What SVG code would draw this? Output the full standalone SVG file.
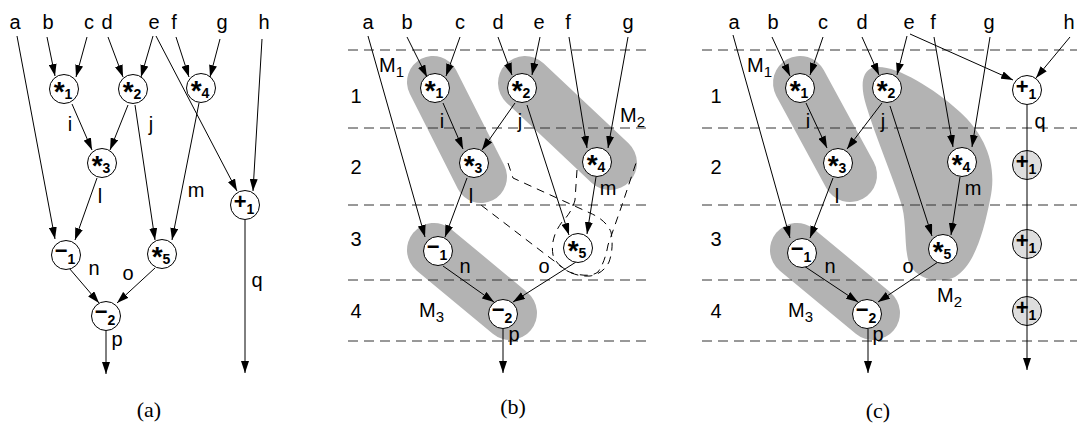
<svg xmlns="http://www.w3.org/2000/svg" width="1077" height="425" viewBox="0 0 1077 425">
<style>
.lbl{font-family:"Liberation Sans",Arial,sans-serif;font-size:20px;fill:#000}
.mid{text-anchor:middle}
.op{font-family:"Liberation Sans",Arial,sans-serif;font-size:22px;font-weight:bold;text-anchor:middle;fill:#000}
.mul{font-size:28px}
.sub{font-size:14px}
.msub{font-size:15px}
.node{fill:#fff;stroke:#000;stroke-width:1}
.node2{fill:#dedede;stroke:#000;stroke-width:1}
.edge{stroke:#000;stroke-width:1;fill:none;marker-end:url(#ah)}
.grid{stroke:#333;stroke-width:1;stroke-dasharray:10 6;fill:none}
.blob{stroke:#b3b3b3;stroke-linecap:round;fill:none}
.blobf{fill:#b3b3b3;stroke:none}
.dash{stroke:#000;stroke-width:1;stroke-dasharray:8 6;fill:none}
.cap{font-family:"Liberation Serif","Times New Roman",serif;font-size:22px;text-anchor:middle;fill:#000}
</style>
<defs>
<marker id="ah" viewBox="0 0 12 8" refX="12" refY="4" markerWidth="12" markerHeight="8" orient="auto" markerUnits="userSpaceOnUse"><path d="M0,0 L12,4 L0,8 z" fill="#000"/></marker>
</defs>

<!-- module groupings -->
<g id="modules">
<line class="blob" x1="433" y1="82" x2="481" y2="177" stroke-width="52"/>
<line class="blob" x1="525" y1="83" x2="610" y2="163" stroke-width="54"/>
<line class="blob" x1="434" y1="250" x2="510" y2="313" stroke-width="54"/>
<line class="blob" x1="800" y1="83" x2="850" y2="175" stroke-width="54"/>
<line class="blob" x1="797" y1="250" x2="873" y2="313" stroke-width="54"/>
<path class="blobf" d="M872,68 C890,62 930,85 960,112 C985,135 998,165 990,200 C984,230 975,265 955,277 C940,284 918,280 910,265 C903,250 908,220 900,200 C890,170 875,135 866,105 C860,85 862,72 872,68 Z"/>
</g>

<!-- time step grid -->
<g id="grid">
<line class="grid" x1="348" y1="50" x2="648" y2="50"/>
<line class="grid" x1="348" y1="128" x2="648" y2="128"/>
<line class="grid" x1="348" y1="205" x2="648" y2="205"/>
<line class="grid" x1="348" y1="280" x2="648" y2="280"/>
<line class="grid" x1="348" y1="341" x2="648" y2="341"/>
<line class="grid" x1="702" y1="50" x2="1077" y2="50"/>
<line class="grid" x1="702" y1="128" x2="1077" y2="128"/>
<line class="grid" x1="702" y1="205" x2="1077" y2="205"/>
<line class="grid" x1="702" y1="280" x2="1077" y2="280"/>
<line class="grid" x1="702" y1="341" x2="1077" y2="341"/>
<text class="lbl mid" x="356" y="103">1</text>
<text class="lbl mid" x="356" y="174">2</text>
<text class="lbl mid" x="356" y="246">3</text>
<text class="lbl mid" x="356" y="318">4</text>
<text class="lbl mid" x="716" y="103">1</text>
<text class="lbl mid" x="716" y="174">2</text>
<text class="lbl mid" x="716" y="246">3</text>
<text class="lbl mid" x="716" y="318">4</text>
</g>

<!-- alternative groupings (dashed) -->
<g id="alt-groupings">
<path class="dash" d="M508,163 L513,178 L590,213 Q606,220 611,232 Q614,248 609,262 Q603,274 590,276 Q574,277 562,267 L477,202"/>
<path class="dash" d="M577,170 L575,200 Q572,212 562,222 Q550,238 553,255 Q558,268 572,273 Q590,278 598,272 Q605,262 608,245 L622,205 L636,163"/>
</g>

<!-- repeated +1 nodes in (c), under the q line -->
<g id="c-add1-t2"><circle class="node2" cx="1027" cy="165" r="14.5"/><text class="op" x="1026" y="169">+<tspan class="sub" dy="5">1</tspan></text></g>
<g id="c-add1-t3"><circle class="node2" cx="1027" cy="244" r="14.5"/><text class="op" x="1026" y="248">+<tspan class="sub" dy="5">1</tspan></text></g>
<g id="c-add1-t4"><circle class="node2" cx="1027" cy="311" r="14.5"/><text class="op" x="1026" y="315">+<tspan class="sub" dy="5">1</tspan></text></g>

<g id="connectors">
<!-- (a) -->
<line class="edge" x1="17" y1="36" x2="55" y2="239"/>
<line class="edge" x1="47" y1="37" x2="55" y2="76"/>
<line class="edge" x1="87" y1="37" x2="76" y2="77"/>
<line class="edge" x1="108" y1="37" x2="123" y2="77"/>
<line class="edge" x1="153" y1="36" x2="141" y2="77"/>
<line class="edge" x1="156" y1="36" x2="237" y2="191"/>
<line class="edge" x1="176" y1="37" x2="189" y2="77"/>
<line class="edge" x1="220" y1="39" x2="210" y2="77"/>
<line class="edge" x1="262" y1="39" x2="253" y2="191"/>
<line class="edge" x1="72" y1="104" x2="92" y2="150"/>
<line class="edge" x1="128" y1="105" x2="110" y2="150"/>
<line class="edge" x1="135" y1="105" x2="155" y2="240"/>
<line class="edge" x1="199" y1="103" x2="172" y2="240"/>
<line class="edge" x1="97" y1="178" x2="75" y2="240"/>
<line class="edge" x1="69" y1="268" x2="99" y2="303"/>
<line class="edge" x1="155" y1="268" x2="117" y2="303"/>
<line class="edge" x1="106" y1="331" x2="106" y2="374"/>
<line class="edge" x1="245" y1="220" x2="245" y2="373"/>
<!-- (b) -->
<line class="edge" x1="368" y1="36" x2="425" y2="237"/>
<line class="edge" x1="407" y1="37" x2="427" y2="77"/>
<line class="edge" x1="460" y1="37" x2="446" y2="76"/>
<line class="edge" x1="498" y1="37" x2="512" y2="75"/>
<line class="edge" x1="540" y1="37" x2="532" y2="75"/>
<line class="edge" x1="569" y1="37" x2="587" y2="148"/>
<line class="edge" x1="628" y1="37" x2="608" y2="148"/>
<line class="edge" x1="443" y1="103" x2="463" y2="149"/>
<line class="edge" x1="515" y1="103" x2="482" y2="150"/>
<line class="edge" x1="527" y1="105" x2="569" y2="235"/>
<line class="edge" x1="596" y1="177" x2="587" y2="234"/>
<line class="edge" x1="467" y1="178" x2="445" y2="237"/>
<line class="edge" x1="443" y1="266" x2="494" y2="302"/>
<line class="edge" x1="576" y1="262" x2="513" y2="302"/>
<line class="edge" x1="503" y1="329" x2="503" y2="373"/>
<!-- (c) -->
<line class="edge" x1="733" y1="35" x2="790" y2="238"/>
<line class="edge" x1="772" y1="37" x2="790" y2="76"/>
<line class="edge" x1="823" y1="37" x2="810" y2="75"/>
<line class="edge" x1="862" y1="37" x2="879" y2="75"/>
<line class="edge" x1="907" y1="36" x2="897" y2="75"/>
<line class="edge" x1="910" y1="34" x2="1013" y2="80"/>
<line class="edge" x1="934" y1="37" x2="953" y2="147"/>
<line class="edge" x1="990" y1="37" x2="972" y2="147"/>
<line class="edge" x1="1070" y1="37" x2="1036" y2="78"/>
<line class="edge" x1="806" y1="103" x2="827" y2="148"/>
<line class="edge" x1="882" y1="103" x2="847" y2="149"/>
<line class="edge" x1="890" y1="106" x2="932" y2="236"/>
<line class="edge" x1="960" y1="177" x2="951" y2="235"/>
<line class="edge" x1="833" y1="178" x2="810" y2="238"/>
<line class="edge" x1="804" y1="266" x2="858" y2="302"/>
<line class="edge" x1="938" y1="262" x2="878" y2="302"/>
<line class="edge" x1="868" y1="329" x2="868" y2="373"/>
<line class="edge" x1="1027" y1="105" x2="1027" y2="370"/>
</g>

<!-- (a) nodes -->
<g id="a-mul1"><circle class="node" cx="64" cy="89" r="14.5"/><text class="op mul" x="63" y="101">*<tspan class="sub" dy="-2">1</tspan></text></g>
<g id="a-mul2"><circle class="node" cx="133" cy="89" r="14.5"/><text class="op mul" x="132" y="101">*<tspan class="sub" dy="-2">2</tspan></text></g>
<g id="a-mul4"><circle class="node" cx="201" cy="88" r="14.5"/><text class="op mul" x="200" y="100">*<tspan class="sub" dy="-2">4</tspan></text></g>
<g id="a-mul3"><circle class="node" cx="102" cy="163" r="14.5"/><text class="op mul" x="101" y="175">*<tspan class="sub" dy="-2">3</tspan></text></g>
<g id="a-add1"><circle class="node" cx="245" cy="205" r="14.5"/><text class="op" x="244" y="209">+<tspan class="sub" dy="5">1</tspan></text></g>
<g id="a-sub1"><circle class="node" cx="66" cy="255" r="14.5"/><text class="op" x="65" y="258">−<tspan class="sub" dy="6">1</tspan></text></g>
<g id="a-mul5"><circle class="node" cx="162" cy="254" r="14.5"/><text class="op mul" x="161" y="266">*<tspan class="sub" dy="-2">5</tspan></text></g>
<g id="a-sub2"><circle class="node" cx="106" cy="316" r="14.5"/><text class="op" x="105" y="319">−<tspan class="sub" dy="6">2</tspan></text></g>

<!-- (b) nodes -->
<g id="b-mul1"><circle class="node" cx="435" cy="88" r="14.5"/><text class="op mul" x="434" y="100">*<tspan class="sub" dy="-2">1</tspan></text></g>
<g id="b-mul2"><circle class="node" cx="522" cy="88" r="14.5"/><text class="op mul" x="521" y="100">*<tspan class="sub" dy="-2">2</tspan></text></g>
<g id="b-mul3"><circle class="node" cx="474" cy="163" r="14.5"/><text class="op mul" x="473" y="175">*<tspan class="sub" dy="-2">3</tspan></text></g>
<g id="b-mul4"><circle class="node" cx="597" cy="162" r="14.5"/><text class="op mul" x="596" y="174">*<tspan class="sub" dy="-2">4</tspan></text></g>
<g id="b-mul5"><circle class="node" cx="578" cy="248" r="14.5"/><text class="op mul" x="577" y="260">*<tspan class="sub" dy="-2">5</tspan></text></g>
<g id="b-sub1"><circle class="node" cx="438" cy="251" r="14.5"/><text class="op" x="437" y="254">−<tspan class="sub" dy="6">1</tspan></text></g>
<g id="b-sub2"><circle class="node" cx="503" cy="314" r="14.5"/><text class="op" x="502" y="317">−<tspan class="sub" dy="6">2</tspan></text></g>

<!-- (c) nodes -->
<g id="c-mul1"><circle class="node" cx="800" cy="88" r="14.5"/><text class="op mul" x="799" y="100">*<tspan class="sub" dy="-2">1</tspan></text></g>
<g id="c-mul2"><circle class="node" cx="887" cy="88" r="14.5"/><text class="op mul" x="886" y="100">*<tspan class="sub" dy="-2">2</tspan></text></g>
<g id="c-mul3"><circle class="node" cx="838" cy="163" r="14.5"/><text class="op mul" x="837" y="175">*<tspan class="sub" dy="-2">3</tspan></text></g>
<g id="c-mul4"><circle class="node" cx="962" cy="162" r="14.5"/><text class="op mul" x="961" y="174">*<tspan class="sub" dy="-2">4</tspan></text></g>
<g id="c-add1"><circle class="node" cx="1027" cy="90" r="14.5"/><text class="op" x="1026" y="94">+<tspan class="sub" dy="5">1</tspan></text></g>
<g id="c-mul5"><circle class="node" cx="943" cy="249" r="14.5"/><text class="op mul" x="942" y="261">*<tspan class="sub" dy="-2">5</tspan></text></g>
<g id="c-sub1"><circle class="node" cx="802" cy="253" r="14.5"/><text class="op" x="801" y="256">−<tspan class="sub" dy="6">1</tspan></text></g>
<g id="c-sub2"><circle class="node" cx="867" cy="314" r="14.5"/><text class="op" x="866" y="317">−<tspan class="sub" dy="6">2</tspan></text></g>

<!-- input labels -->
<g id="inputs">
<text class="lbl mid" x="15" y="29">a</text>
<text class="lbl mid" x="48" y="29">b</text>
<text class="lbl mid" x="89" y="29">c</text>
<text class="lbl mid" x="107" y="29">d</text>
<text class="lbl mid" x="154" y="29">e</text>
<text class="lbl mid" x="174" y="29">f</text>
<text class="lbl mid" x="222" y="29">g</text>
<text class="lbl mid" x="264" y="29">h</text>
<text class="lbl mid" x="368" y="29">a</text>
<text class="lbl mid" x="407" y="29">b</text>
<text class="lbl mid" x="460" y="29">c</text>
<text class="lbl mid" x="498" y="29">d</text>
<text class="lbl mid" x="539" y="29">e</text>
<text class="lbl mid" x="568" y="29">f</text>
<text class="lbl mid" x="628" y="29">g</text>
<text class="lbl mid" x="734" y="29">a</text>
<text class="lbl mid" x="773" y="29">b</text>
<text class="lbl mid" x="823" y="29">c</text>
<text class="lbl mid" x="862" y="29">d</text>
<text class="lbl mid" x="909" y="29">e</text>
<text class="lbl mid" x="933" y="29">f</text>
<text class="lbl mid" x="989" y="29">g</text>
<text class="lbl mid" x="1069" y="29">h</text>
</g>

<!-- edge labels -->
<g id="edge-labels">
<text class="lbl mid" x="70" y="131">i</text>
<text class="lbl mid" x="151" y="131">j</text>
<text class="lbl mid" x="100" y="203">l</text>
<text class="lbl mid" x="196" y="197">m</text>
<text class="lbl mid" x="94" y="275">n</text>
<text class="lbl mid" x="128" y="280">o</text>
<text class="lbl mid" x="117" y="346">p</text>
<text class="lbl mid" x="257" y="287">q</text>
<text class="lbl mid" x="442" y="128">i</text>
<text class="lbl mid" x="520" y="128">j</text>
<text class="lbl mid" x="471" y="203">l</text>
<text class="lbl mid" x="608" y="195">m</text>
<text class="lbl mid" x="465" y="273">n</text>
<text class="lbl mid" x="544" y="273">o</text>
<text class="lbl mid" x="514" y="341">p</text>
<text class="lbl mid" x="808" y="128">i</text>
<text class="lbl mid" x="883" y="128">j</text>
<text class="lbl mid" x="837" y="203">l</text>
<text class="lbl mid" x="973" y="195">m</text>
<text class="lbl mid" x="830" y="273">n</text>
<text class="lbl mid" x="908" y="273">o</text>
<text class="lbl mid" x="878" y="341">p</text>
<text class="lbl mid" x="1040" y="128">q</text>
</g>

<!-- module labels -->
<g id="module-labels">
<text class="lbl" x="379" y="72">M<tspan class="msub" dy="5">1</tspan></text>
<text class="lbl" x="620" y="122">M<tspan class="msub" dy="5">2</tspan></text>
<text class="lbl" x="419" y="317">M<tspan class="msub" dy="5">3</tspan></text>
<text class="lbl" x="747" y="72">M<tspan class="msub" dy="5">1</tspan></text>
<text class="lbl" x="937" y="302">M<tspan class="msub" dy="5">2</tspan></text>
<text class="lbl" x="788" y="317">M<tspan class="msub" dy="5">3</tspan></text>
</g>

<!-- captions -->
<g id="captions">
<text class="cap" x="149" y="417">(a)</text>
<text class="cap" x="513" y="414">(b)</text>
<text class="cap" x="878" y="418">(c)</text>
</g>
</svg>
